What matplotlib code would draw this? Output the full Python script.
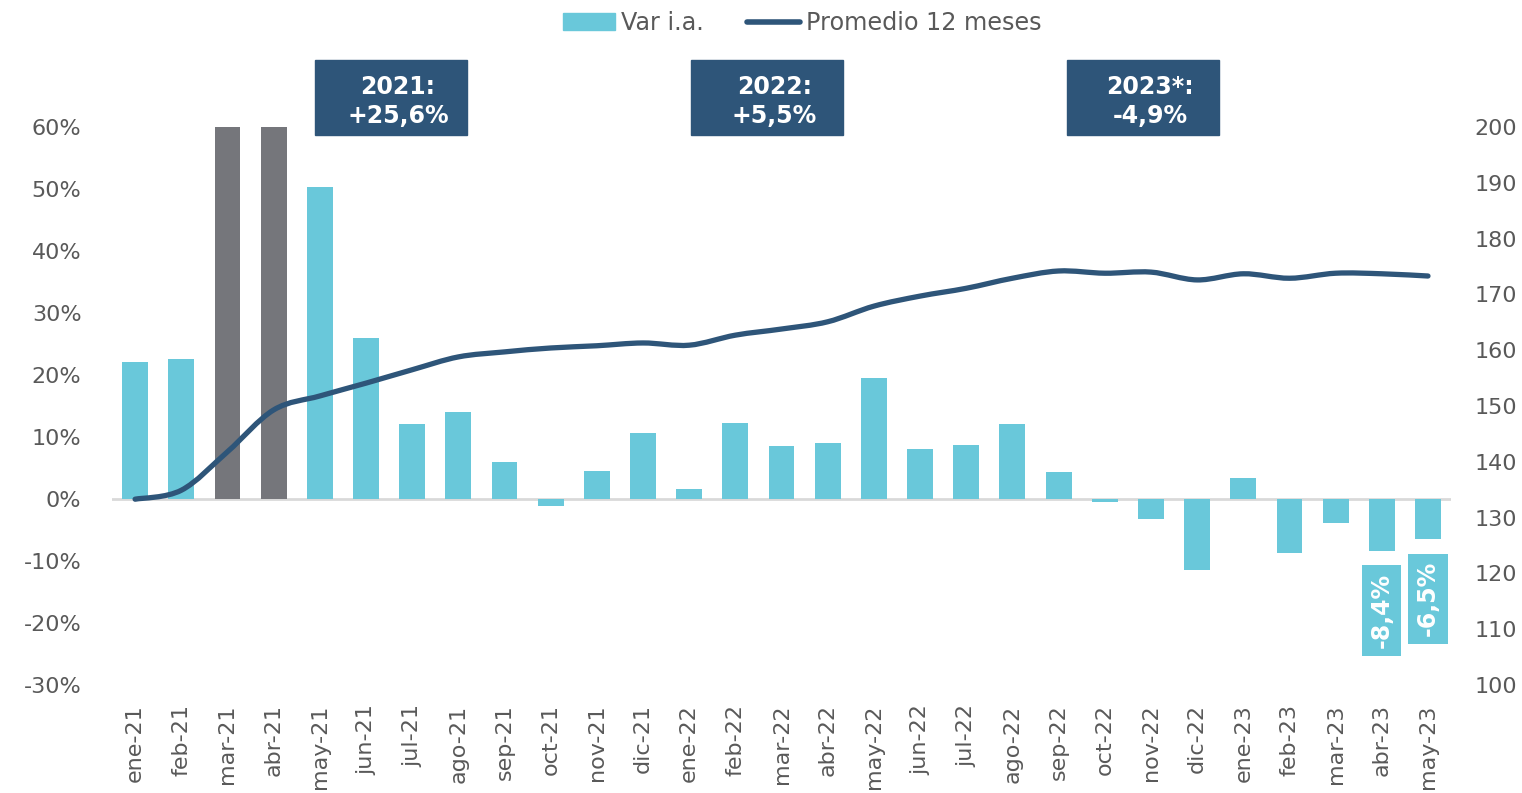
import matplotlib
matplotlib.use("Agg")
import matplotlib.pyplot as plt
import matplotlib.transforms as mtransforms
from matplotlib.patches import Rectangle, PathPatch
from matplotlib.path import Path
from matplotlib.lines import Line2D
import numpy as np

# data
meses = ["ene-21", "feb-21", "mar-21", "abr-21", "may-21", "jun-21", "jul-21", "ago-21",
         "sep-21", "oct-21", "nov-21", "dic-21", "ene-22", "feb-22", "mar-22", "abr-22",
         "may-22", "jun-22", "jul-22", "ago-22", "sep-22", "oct-22", "nov-22", "dic-22",
         "ene-23", "feb-23", "mar-23", "abr-23", "may-23"]
var_ia = [22.1, 22.6, 60.0, 60.0, 50.4, 26.0, 12.1, 14.1, 6.0, -1.1, 4.5, 10.7, 1.6, 12.3,
          8.6, 9.0, 19.5, 8.1, 8.7, 12.1, 4.4, -0.5, -3.2, -11.5, 3.4, -8.7, -3.9, -8.4, -6.5]
# bars that go off the top of the scale (drawn grey, cut at 60%)
fuera_escala = ["mar-21", "abr-21"]
promedio_12m = [133.3, 134.9, 141.8, 149.3, 151.8, 154.1, 156.5, 158.8, 159.7, 160.4, 160.8,
                161.3, 160.9, 162.7, 163.8, 165.1, 167.9, 169.7, 171.1, 172.9, 174.2, 173.8,
                174.0, 172.6, 173.7, 172.9, 173.8, 173.7, 173.3]
resumen_anual = ["2021:\n+25,6%", "2022:\n+5,5%", "2023*:\n-4,9%"]
resumen_pos = [5.54, 13.69, 21.83]
etiquetas = {"abr-23": "-8,4%", "may-23": "-6,5%"}

cyan = "#69C8DA"
gris = "#75767B"
azul = "#2E5579"
texto = "#595959"

plt.rcParams["font.family"] = "DejaVu Sans"
fig = plt.figure(figsize=(15.22, 7.93), dpi=100)
ax = fig.add_axes([0.0736, 0.1362, 0.8798, 0.7036])
ax2 = ax.twinx()

x = np.arange(len(meses))
colores = [gris if m in fuera_escala else cyan for m in meses]
ax.bar(x, var_ia, width=0.56, color=colores, zorder=2)
ax.axhline(0, color="#D9D9D9", lw=2, zorder=1)

ax.set_xlim(-0.5, len(meses) - 0.5)
ax.set_ylim(-30, 60)
ax.set_yticks(range(-30, 61, 10))
ax.set_yticklabels([f"{v}%" for v in range(-30, 61, 10)])
ax.set_xticks(x)
ax.set_xticklabels(meses, rotation=90)
ax2.set_ylim(100, 200)
ax2.set_yticks(range(100, 201, 10))

for a in (ax, ax2):
    for s in a.spines.values():
        s.set_visible(False)
    a.tick_params(length=0, labelsize=16, labelcolor=texto)
ax.tick_params(axis="y", pad=22)
ax.tick_params(axis="x", pad=14)
ax2.tick_params(axis="y", pad=17)

# smoothed line (Excel style), Catmull-Rom -> cubic bezier
pts = np.column_stack([x, promedio_12m]).astype(float)
verts = [pts[0]]
codes = [Path.MOVETO]
n = len(pts)
for i in range(n - 1):
    p0 = pts[max(i - 1, 0)]
    p1 = pts[i]
    p2 = pts[i + 1]
    p3 = pts[min(i + 2, n - 1)]
    verts += [p1 + (p2 - p0) / 6, p2 - (p3 - p1) / 6, p2]
    codes += [Path.CURVE4] * 3
linea = PathPatch(Path(verts, codes), fill=False, edgecolor=azul, lw=3.8,
                  capstyle="round", joinstyle="round", zorder=3)
ax2.add_patch(linea)

# yearly summary boxes
trans = mtransforms.blended_transform_factory(ax.transData, ax.transAxes)
for txt, xc in zip(resumen_anual, resumen_pos):
    ax.add_patch(Rectangle((xc - 1.645, 0.9857), 3.29, 0.1344, transform=trans,
                           color=azul, clip_on=False, zorder=5))
    ax.text(xc + 0.15, 1.046, txt, transform=trans, ha="center", va="center",
            color="white", fontsize=17, fontweight="bold", linespacing=1.3, zorder=6)

# labels under the last bars
for m, lab in etiquetas.items():
    i = meses.index(m)
    ax.text(i, var_ia[i] - 9.6, lab, rotation=90, ha="center", va="center",
            color="white", fontsize=17, fontweight="bold", zorder=6,
            bbox=dict(boxstyle="square,pad=0.32", fc=cyan, ec="none"))

handles = [Rectangle((0, 0), 1, 1, color=cyan),
           Line2D([0], [0], color=azul, lw=4, solid_capstyle="round")]
fig.legend(handles, ["Var i.a.", "Promedio 12 meses"], loc="center",
           bbox_to_anchor=(0.527, 0.971), ncol=2, frameon=False, fontsize=17.2,
           labelcolor=texto, handlelength=2.2, handletextpad=0.25, columnspacing=1.8)

fig.savefig("out.png", dpi=100)
